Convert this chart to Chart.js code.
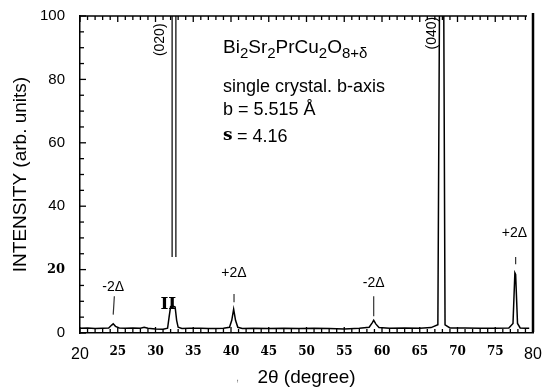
<!DOCTYPE html>
<html>
<head>
<meta charset="utf-8">
<script src="https://cdn.jsdelivr.net/npm/chart.js@4.4.0/dist/chart.umd.min.js"></script>
<style>
  html, body { margin: 0; padding: 0; background: #fff; }
  #wrap { width: 544px; height: 392px; }
</style>
</head>
<body>
<div id="wrap"><canvas id="xrdChart" width="544" height="392"></canvas></div>
<script>
// scan (2theta in degrees, intensity in arb. units)
const twoTheta = [20.0, 21.0, 22.0, 23.0, 23.8, 24.2, 24.4, 24.7, 25.2, 26.0, 27.0, 28.0, 28.5, 29.0, 30.0,
  31.0, 31.6, 31.8, 32.0, 32.3, 32.6, 32.8, 33.0, 33.5, 34.5, 36.0, 37.0, 38.0, 39.0, 39.8, 40.1, 40.35,
  40.6, 40.9, 41.5, 43.0, 45.0, 47.0, 49.0, 51.0, 53.0, 55.0, 57.0, 58.3, 58.7, 58.9, 59.2, 59.6, 61.0,
  63.0, 65.0, 66.5, 67.4, 67.65, 68.15, 68.35, 69.0, 71.0, 73.0, 75.0, 76.8, 77.35, 77.6, 77.7, 77.95,
  78.3, 79.0, 79.5];
const intensity = [1.5, 1.6, 1.4, 1.5, 1.6, 2.5, 2.9, 2.1, 1.6, 1.5, 1.6, 1.5, 1.8, 1.5, 1.3,
  1.2, 1.5, 5.0, 8.3, 8.5, 8.2, 4.0, 1.8, 1.4, 1.5, 1.5, 1.4, 1.4, 1.5, 1.8, 4.0, 7.5,
  4.0, 1.8, 1.4, 1.5, 1.4, 1.5, 1.4, 1.5, 1.4, 1.3, 1.5, 1.8, 3.2, 4.0, 2.8, 1.7, 1.5,
  1.6, 1.5, 1.7, 2.6, 120, 120, 2.6, 1.6, 1.6, 1.5, 1.5, 1.6, 3.0, 19.0, 18.5, 3.0,
  1.6, 1.5, 1.5];

// off-scale (020) reflection, drawn as the broken double line
const peak020X = [32.2, 32.2, 32.7, 32.7];
const peak020Y = [24, 120, 120, 24];

// small tick marks above the satellite peaks
const markerX = [24.55, 24.4, null, 40.4, 40.4, null, 58.9, 58.9, null, 77.7, 77.7];
const markerY = [11.6, 5.8, null, 12.3, 9.7, null, 11.6, 5.3, null, 24.0, 21.7];

// labels near the peaks
const peakLabels = ['-2\u0394', 'II', '+2\u0394', '-2\u0394', '+2\u0394'];
const peakLabelX = [24.4, 31.7, 40.4, 58.9, 77.55];
const peakLabelY = [14.6, 9.0, 19.0, 15.8, 31.5];

const reflLabels = ['(020)', '(040)'];
const reflX = [30.6, 66.6];
const reflY = [92.5, 94.6];

const infoLines = ['single crystal. b-axis', 'b = 5.515 \u00c5'];

function toPoints(xs, ys) {
  return xs.map((x, i) => (x === null ? { x: null, y: null } : { x: x, y: ys[i] }));
}

const SANS = 'Arial, "Liberation Sans", sans-serif';
const SERIF = '"DejaVu Serif", serif';

const annotate = {
  id: 'annotate',
  afterDatasetsDraw(chart) {
    const ctx = chart.ctx;
    const area = chart.chartArea;
    const xs = chart.scales.x;
    const ys = chart.scales.y;
    ctx.save();
    ctx.strokeStyle = '#000';
    ctx.fillStyle = '#000';

    // frame: top line, heavy right line
    ctx.lineWidth = 1.5;
    ctx.beginPath();
    ctx.moveTo(area.left, area.top);
    ctx.lineTo(area.right - 6, area.top);
    ctx.stroke();
    ctx.lineWidth = 2.5;
    ctx.beginPath();
    ctx.moveTo(area.right, area.top - 3);
    ctx.lineTo(area.right, area.bottom - 1);
    ctx.stroke();

    // inward ticks
    ctx.lineWidth = 1.3;
    xs.ticks.forEach(t => {
      const px = xs.getPixelForValue(t.value);
      if (t.value >= 79.5) return;
      const len = t.value % 5 === 0 ? 6 : 4;
      ctx.beginPath();
      ctx.moveTo(px, area.top);
      ctx.lineTo(px, area.top + len);
      ctx.moveTo(px, area.bottom);
      ctx.lineTo(px, area.bottom - len);
      ctx.stroke();
    });
    ys.ticks.forEach(t => {
      const py = ys.getPixelForValue(t.value);
      const len = t.value % 20 === 0 ? 6 : 4;
      ctx.beginPath();
      ctx.moveTo(area.left, py);
      ctx.lineTo(area.left + len, py);
      ctx.stroke();
    });

    // peak labels
    ctx.textAlign = 'center';
    ctx.textBaseline = 'middle';
    peakLabels.forEach((s, i) => {
      ctx.font = s === 'II' ? 'bold 17px ' + SERIF : '14px ' + SANS;
      ctx.fillText(s, xs.getPixelForValue(peakLabelX[i]), ys.getPixelForValue(peakLabelY[i]));
    });

    // reflection labels, rotated
    ctx.font = '14px ' + SANS;
    reflLabels.forEach((s, i) => {
      ctx.save();
      ctx.translate(xs.getPixelForValue(reflX[i]), ys.getPixelForValue(reflY[i]));
      ctx.rotate(-Math.PI / 2);
      ctx.fillText(s, 0, 0);
      ctx.restore();
    });

    // formula with subscripts
    ctx.textAlign = 'left';
    ctx.textBaseline = 'alphabetic';
    let x = 223;
    const base = 53;
    [['Bi', 0], ['2', 1], ['Sr', 0], ['2', 1], ['PrCu', 0], ['2', 1], ['O', 0], ['8+\u03b4', 1]].forEach(p => {
      ctx.font = p[1] ? '15px ' + SANS : '19px ' + SANS;
      ctx.fillText(p[0], x, base + (p[1] ? 5 : 0));
      x += ctx.measureText(p[0]).width;
    });
    ctx.font = '18px ' + SANS;
    ctx.textBaseline = 'middle';
    ctx.fillText(infoLines[0], 223, 87);
    ctx.fillText(infoLines[1], 223, 110);
    ctx.font = 'bold 17px ' + SERIF;
    ctx.fillText('s', 223, 136);
    ctx.font = '18px ' + SANS;
    ctx.fillText(' = 4.16', 223 + 9, 137);

    ctx.font = '11px ' + SANS;
    ctx.fillStyle = '#888';
    ctx.fillText(',', 236, 378);
    ctx.restore();
  }
};

const config = {
  type: 'scatter',
  data: {
    datasets: [{
      label: 'scan',
      data: toPoints(twoTheta, intensity),
      showLine: true,
      borderColor: '#000',
      borderWidth: 1.5,
      pointRadius: 0,
      tension: 0
    }, {
      label: '(020)',
      data: toPoints(peak020X, peak020Y),
      showLine: true,
      borderColor: '#000',
      borderWidth: 1.2,
      pointRadius: 0
    }, {
      label: 'markers',
      data: toPoints(markerX, markerY),
      showLine: true,
      spanGaps: false,
      borderColor: '#333',
      borderWidth: 1.2,
      pointRadius: 0
    }]
  },
  options: {
    responsive: false,
    animation: false,
    layout: { padding: { top: 16, right: 11, left: 0, bottom: 0 } },
    plugins: { legend: { display: false }, tooltip: { enabled: false } },
    scales: {
      x: {
        type: 'linear',
        min: 20,
        max: 80,
        afterFit: s => { s.height = 59; s.paddingRight = 0; s.paddingLeft = 0; },
        grid: { display: false },
        border: { display: true, color: '#000', width: 1.5 },
        ticks: {
          stepSize: 1,
          autoSkip: false,
          maxRotation: 0,
          padding: 4,
          color: '#000',
          callback: v => (v % 5 === 0 ? v : ''),
          font: c => (c.tick && (c.tick.value === 20 || c.tick.value === 80)
            ? { family: SANS, size: 16 }
            : { family: SERIF, size: 12, weight: 'bold' })
        },
        title: {
          display: true,
          text: '2\u03b8 (degree)',
          color: '#000',
          font: { family: SANS, size: 19 },
          padding: { top: 0, bottom: 3 }
        }
      },
      y: {
        min: 0,
        max: 100,
        afterFit: s => { s.width = 80; },
        grid: { display: false },
        border: { display: true, color: '#000', width: 1.5 },
        ticks: {
          stepSize: 5,
          autoSkip: false,
          padding: 7,
          color: '#000',
          callback: v => (v % 20 === 0 ? v : ''),
          font: c => (c.tick && c.tick.value === 20
            ? { family: SERIF, size: 13, weight: 'bold' }
            : { family: SANS, size: 15 })
        },
        title: {
          display: true,
          text: 'INTENSITY (arb. units)',
          color: '#000',
          font: { family: SANS, size: 19 },
          padding: { top: 9, bottom: 0 }
        }
      }
    }
  },
  plugins: [annotate]
};

new Chart(document.getElementById('xrdChart'), config);
</script>
</body>
</html>
